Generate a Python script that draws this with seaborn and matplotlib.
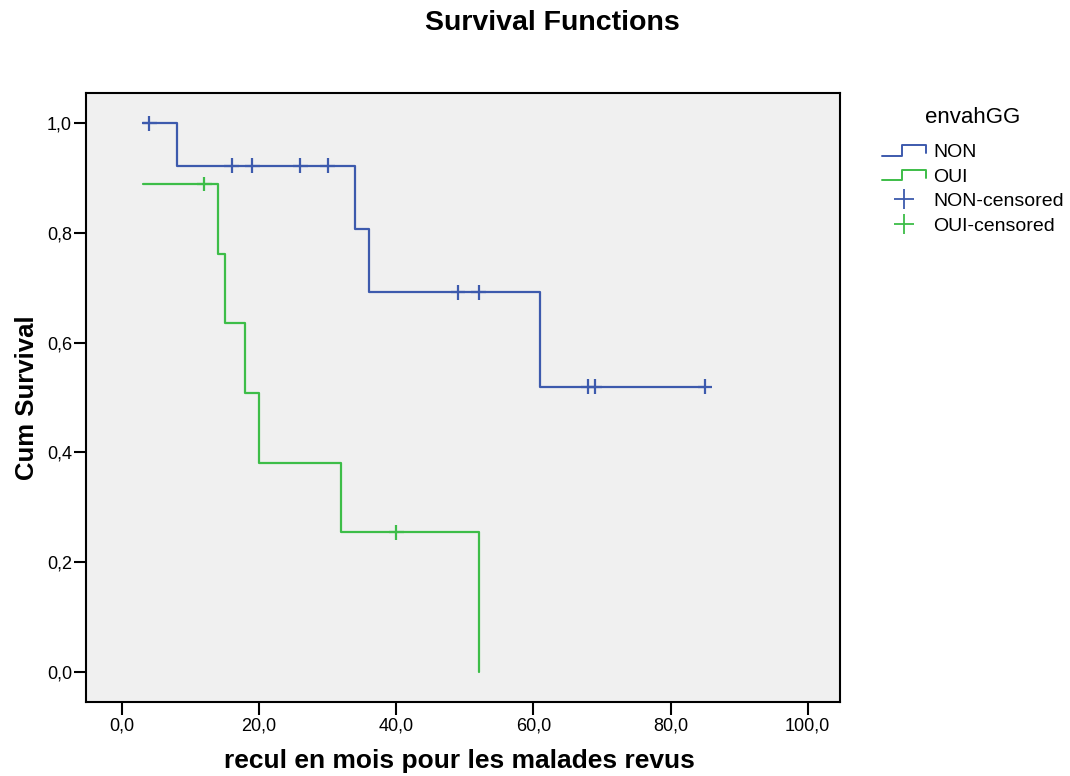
import matplotlib
matplotlib.use("Agg")
import matplotlib.pyplot as plt
import seaborn as sns
import pandas as pd
from matplotlib.lines import Line2D
from matplotlib.legend_handler import HandlerLine2D
from matplotlib.ticker import FuncFormatter, FixedLocator

# ---- data ----
groups = ["NON", "OUI"]
non_time = [3, 8, 34, 36, 61, 85]
non_surv = [1.0, 0.923, 0.808, 0.692, 0.520, 0.520]
oui_time = [3, 14, 15, 18, 20, 32, 52]
oui_surv = [0.889, 0.762, 0.635, 0.508, 0.381, 0.254, 0.0]
non_cens_time = [4, 16, 19, 26, 30, 49, 52, 68, 69, 85]
non_cens_surv = [1.0, 0.923, 0.923, 0.923, 0.923, 0.692, 0.692, 0.520, 0.520, 0.520]
oui_cens_time = [12, 40]
oui_cens_surv = [0.889, 0.254]
x_ticks = [0, 20, 40, 60, 80, 100]
y_ticks = [0.0, 0.2, 0.4, 0.6, 0.8, 1.0]

blue = "#3d5aad"
green = "#3dbd48"

curves = pd.DataFrame({
    "time": non_time + oui_time,
    "surv": non_surv + oui_surv,
    "group": ["NON"] * len(non_time) + ["OUI"] * len(oui_time),
})
cens = pd.DataFrame({
    "time": non_cens_time + oui_cens_time,
    "surv": non_cens_surv + oui_cens_surv,
    "group": ["NON"] * len(non_cens_time) + ["OUI"] * len(oui_cens_time),
})

sns.set_theme(style="white")
plt.rcParams["font.family"] = ["Liberation Sans", "DejaVu Sans"]

fig = plt.figure(figsize=(10.7, 7.76), dpi=100)
ax = fig.add_axes([0.0804, 0.0954, 0.7046, 0.7846])
ax.set_facecolor("#f0f0f0")

pal = {"NON": blue, "OUI": green}
sns.lineplot(data=curves, x="time", y="surv", hue="group", palette=pal,
             drawstyle="steps-post", estimator=None, sort=True, lw=1.6,
             legend=False, ax=ax)
sns.scatterplot(data=cens, x="time", y="surv", hue="group", palette=pal,
                marker="+", s=110, linewidth=1.6, legend=False, ax=ax, zorder=5)

ax.set_xlim(-5.25, 104.7)
ax.set_ylim(-0.055, 1.055)
ax.xaxis.set_major_locator(FixedLocator(x_ticks))
ax.yaxis.set_major_locator(FixedLocator(y_ticks))
ax.xaxis.set_major_formatter(FuncFormatter(lambda v, p: f"{v:.1f}".replace(".", ",")))
ax.yaxis.set_major_formatter(FuncFormatter(lambda v, p: f"{v:.1f}".replace(".", ",")))
ax.tick_params(axis="both", direction="out", width=1.5, color="black",
               labelsize=13, labelcolor="black", bottom=True, left=True)
ax.tick_params(axis="x", length=9.5, pad=2)
ax.tick_params(axis="y", length=8.6, pad=1.5)
for s in ax.spines.values():
    s.set_color("black")
    s.set_linewidth(1.5)
    s.set_visible(True)

ax.set_xlabel("recul en mois pour les malades revus", fontsize=19, fontweight="bold",
              color="black")
ax.xaxis.set_label_coords(0.495, -0.077)
ax.set_ylabel("Cum Survival", fontsize=18.5, fontweight="bold", color="black")
ax.yaxis.set_label_coords(-0.063, 0.5)
fig.text(0.516, 0.97, "Survival Functions", ha="center", va="center",
         fontsize=20.5, fontweight="bold", color="black")


class StepHandler(HandlerLine2D):
    def create_artists(self, legend, orig_handle, xdescent, ydescent, width, height, fontsize, trans):
        x0 = -xdescent
        y0 = -ydescent
        xs = [x0, x0 + width * 0.45, x0 + width * 0.45, x0 + width, x0 + width]
        ys = [y0 + height * 0.1, y0 + height * 0.1, y0 + height * 0.85, y0 + height * 0.85, y0 + height * 0.3]
        ln = Line2D(xs, ys, color=orig_handle.get_color(), lw=1.4)
        ln.set_transform(trans)
        return [ln]


h_non = Line2D([], [], color=blue)
h_oui = Line2D([], [], color=green)
h_nc = Line2D([], [], color=blue, marker="+", ls="none", markersize=15, mew=1.3)
h_oc = Line2D([], [], color=green, marker="+", ls="none", markersize=15, mew=1.3)
leg = fig.legend([h_non, h_oui, h_nc, h_oc], ["NON", "OUI", "NON-censored", "OUI-censored"],
                 loc="upper left", bbox_to_anchor=(0.824, 0.862), frameon=False,
                 title="envahGG", title_fontsize=16, fontsize=14,
                 handler_map={h_non: StepHandler(), h_oui: StepHandler()},
                 handlelength=2.3, handletextpad=0.36, labelspacing=0.36, borderaxespad=0,
                 borderpad=0)
leg._legend_box.align = "center"
leg._legend_box.sep = 11
leg.get_title().set_color("black")
for t in leg.get_texts():
    t.set_color("black")

fig.savefig("out.png", dpi=100)
